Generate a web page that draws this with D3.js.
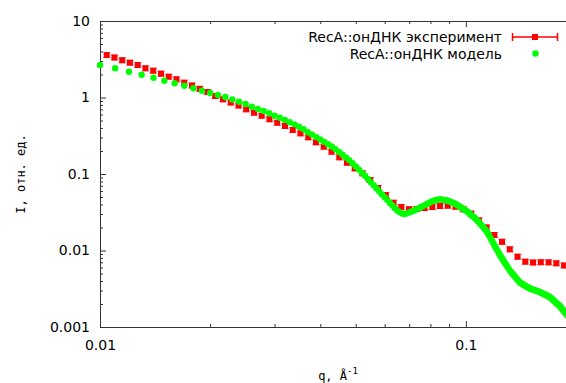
<!DOCTYPE html>
<html>
<head>
<meta charset="utf-8">
<script src="https://cdn.jsdelivr.net/npm/d3@7"></script>
<style>
  body { margin: 0; background: #fff; }
  svg { display: block; }
</style>
</head>
<body>
<div id="chart"></div>
<script>
// experiment (red squares)
const expQ = [0.01043, 0.01095, 0.01150, 0.01207, 0.01268, 0.01331, 0.01398, 0.01468, 0.01541, 0.01618,
  0.01699, 0.01784, 0.01873, 0.01967, 0.02065, 0.02168, 0.02277, 0.02391, 0.02510, 0.02636,
  0.02767, 0.02906, 0.03051, 0.03204, 0.03364, 0.03532, 0.03709, 0.03894, 0.04089, 0.04293,
  0.04508, 0.04733, 0.04970, 0.05218, 0.05479, 0.05753, 0.06041, 0.06343, 0.06660, 0.06993,
  0.07343, 0.07710, 0.08095, 0.08500, 0.08925, 0.09371, 0.09840, 0.10332, 0.10849, 0.11391,
  0.11961, 0.12559, 0.13187, 0.13846, 0.14538, 0.15265, 0.16028, 0.16830, 0.17671, 0.18555];
const expI = [3.594, 3.333, 3.073, 2.850, 2.659, 2.408, 2.240, 2.047, 1.870, 1.729,
  1.561, 1.435, 1.299, 1.180, 1.046, 0.947, 0.860, 0.786, 0.701, 0.633,
  0.578, 0.520, 0.468, 0.424, 0.376, 0.340, 0.302, 0.260, 0.2275, 0.1956,
  0.1653, 0.1405, 0.1187, 0.1021, 0.0835, 0.0656, 0.0531, 0.0421, 0.0370, 0.0346,
  0.0349, 0.0359, 0.0370, 0.0382, 0.0385, 0.0374, 0.0346, 0.0303, 0.0248, 0.0200,
  0.01594, 0.01299, 0.01037, 0.00830, 0.00714, 0.00697, 0.00703, 0.00701, 0.00680, 0.00637];

// model (green dots)
const modQ = [0.010, 0.011, 0.012, 0.013, 0.014, 0.015, 0.016, 0.017, 0.018, 0.019,
  0.020, 0.021, 0.022, 0.023, 0.024, 0.025, 0.026, 0.027, 0.028, 0.029,
  0.030, 0.031, 0.032, 0.033, 0.034, 0.035, 0.036, 0.037, 0.038, 0.039,
  0.040, 0.041, 0.042, 0.043, 0.044, 0.045, 0.046, 0.047, 0.048, 0.049,
  0.050, 0.051, 0.052, 0.053, 0.054, 0.055, 0.056, 0.057, 0.058, 0.059,
  0.060, 0.061, 0.062, 0.063, 0.064, 0.065, 0.066, 0.067, 0.068, 0.069,
  0.070, 0.071, 0.072, 0.073, 0.074, 0.075, 0.076, 0.077, 0.078, 0.079,
  0.080, 0.081, 0.082, 0.083, 0.084, 0.085, 0.086, 0.087, 0.088, 0.089,
  0.090, 0.091, 0.092, 0.093, 0.094, 0.095, 0.096, 0.097, 0.098, 0.099,
  0.100, 0.101, 0.102, 0.103, 0.104, 0.105, 0.106, 0.107, 0.108, 0.109,
  0.110, 0.111, 0.112, 0.113, 0.114, 0.115, 0.116, 0.117, 0.118, 0.119,
  0.120, 0.121, 0.122, 0.123, 0.124, 0.125, 0.126, 0.127, 0.128, 0.129,
  0.130, 0.131, 0.132, 0.133, 0.134, 0.135, 0.136, 0.137, 0.138, 0.139,
  0.140, 0.141, 0.142, 0.143, 0.144, 0.145, 0.146, 0.147, 0.148, 0.149,
  0.150, 0.151, 0.152, 0.153, 0.154, 0.155, 0.156, 0.157, 0.158, 0.159,
  0.160, 0.161, 0.162, 0.163, 0.164, 0.165, 0.166, 0.167, 0.168, 0.169,
  0.170, 0.171, 0.172, 0.173, 0.174, 0.175, 0.176, 0.177, 0.178, 0.179,
  0.180, 0.181, 0.182, 0.183, 0.184, 0.185, 0.186, 0.187, 0.188, 0.189, 0.190];
const modI = [2.659, 2.408, 2.174, 1.980, 1.815, 1.658, 1.533, 1.422, 1.319, 1.223,
  1.145, 1.078, 1.015, 0.942, 0.879, 0.822, 0.758, 0.707, 0.666, 0.622,
  0.578, 0.544, 0.508, 0.474, 0.446, 0.415, 0.384, 0.351, 0.3273, 0.3038,
  0.2825, 0.2628, 0.2452, 0.2288, 0.2116, 0.1942, 0.1782, 0.1643, 0.1519, 0.1380,
  0.1253, 0.1142, 0.1040, 0.0950, 0.0863, 0.0783, 0.0714, 0.0648, 0.0592, 0.0541,
  0.0496, 0.0456, 0.0419, 0.0388, 0.0356, 0.0332, 0.0317, 0.0305, 0.0300, 0.0306,
  0.0315, 0.0323, 0.0331, 0.0342, 0.0353, 0.0365, 0.0377, 0.0389, 0.0402, 0.0415,
  0.0428, 0.0442, 0.0450, 0.0457, 0.0462, 0.0467, 0.0463, 0.0458, 0.0454, 0.0450,
  0.0442, 0.0432, 0.0421, 0.0411, 0.0402, 0.0391, 0.0378, 0.0366, 0.0354, 0.0343,
  0.0333, 0.0321, 0.0309, 0.0296, 0.0285, 0.0274, 0.0264, 0.0253, 0.0242, 0.0229,
  0.0218, 0.0207, 0.0197, 0.0188, 0.0179, 0.0166, 0.0154, 0.0143, 0.0133, 0.0123,
  0.0114, 0.0107, 0.00994, 0.00928, 0.00866, 0.00815, 0.00770, 0.00725, 0.00684, 0.00645,
  0.00609, 0.00576, 0.00546, 0.00522, 0.00500, 0.00480, 0.00459, 0.00441, 0.00423, 0.00405,
  0.00389, 0.00377, 0.00370, 0.00363, 0.00355, 0.00348, 0.00341, 0.00335, 0.00328, 0.00323,
  0.00317, 0.00314, 0.00310, 0.00306, 0.00304, 0.00300, 0.00297, 0.00294, 0.00291, 0.00288,
  0.00283, 0.00279, 0.00275, 0.00271, 0.00268, 0.00264, 0.00260, 0.00256, 0.00252, 0.00249,
  0.00245, 0.00238, 0.00232, 0.00227, 0.00221, 0.00215, 0.00210, 0.00205, 0.00200, 0.00196,
  0.00191, 0.00186, 0.00180, 0.00173, 0.00168, 0.00163, 0.00158, 0.00152, 0.00148, 0.00143, 0.00139];

const xMajor = [0.01, 0.1];
const xMinor = [0.02, 0.03, 0.04, 0.05, 0.06, 0.07, 0.08, 0.09, 0.2];
const yMajor = [0.001, 0.01, 0.1, 1, 10];
const yMinor = [];
[0.001, 0.01, 0.1, 1].forEach(d => { for (let k = 2; k <= 9; k++) yMinor.push(+(d * k).toPrecision(3)); });

const expLabel = "RecA::онДНК эксперимент";
const modLabel = "RecA::онДНК модель";

const width = 566, height = 383;
const plotLeft = 100, plotRight = 576, plotTop = 21, plotBottom = 327;
const labelFont = "DejaVu Sans";

const svg = d3.select("#chart").append("svg")
  .attr("width", width)
  .attr("height", height);

const x = d3.scaleLog().domain([0.01, 0.2]).range([plotLeft, plotRight]);
const y = d3.scaleLog().domain([0.001, 10]).range([plotBottom, plotTop]);

function styleAxis(g) {
  g.select(".domain").remove();
  g.selectAll("line").attr("stroke", "#333");
  g.selectAll("text").attr("fill", "#000");
  g.attr("font-family", labelFont).attr("font-size", 14);
}

// bottom axis
svg.append("g").attr("transform", `translate(0,${plotBottom})`)
  .call(d3.axisBottom(x).tickValues(xMajor).tickSize(-6).tickPadding(13).tickFormat(d => d))
  .call(styleAxis);
svg.append("g").attr("transform", `translate(0,${plotBottom})`)
  .call(d3.axisBottom(x).tickValues(xMinor).tickSize(-3).tickFormat(""))
  .call(styleAxis);
// top axis (mirror)
svg.append("g").attr("transform", `translate(0,${plotTop})`)
  .call(d3.axisTop(x).tickValues(xMajor).tickSize(-6).tickFormat(""))
  .call(styleAxis);
svg.append("g").attr("transform", `translate(0,${plotTop})`)
  .call(d3.axisTop(x).tickValues(xMinor).tickSize(-3).tickFormat(""))
  .call(styleAxis);
// left axis
svg.append("g").attr("transform", `translate(${plotLeft},0)`)
  .call(d3.axisLeft(y).tickValues(yMajor).tickSize(-6).tickPadding(10).tickFormat(d => d))
  .call(styleAxis);
svg.append("g").attr("transform", `translate(${plotLeft},0)`)
  .call(d3.axisLeft(y).tickValues(yMinor).tickSize(-3).tickFormat(""))
  .call(styleAxis);

// border
svg.append("rect")
  .attr("x", plotLeft + 0.5).attr("y", plotTop + 0.5)
  .attr("width", plotRight - plotLeft).attr("height", plotBottom - plotTop)
  .attr("fill", "none").attr("stroke", "#333").attr("stroke-width", 1);

// experiment points with small error-bar caps
const expData = expQ.map((q, i) => ({ q, I: expI[i] }));
const expG = svg.append("g").selectAll("g").data(expData).join("g")
  .attr("transform", d => `translate(${x(d.q)},${y(d.I)})`);
expG.append("path")
  .attr("d", "M-4,-2.5H4M-4,2.5H4")
  .attr("stroke", "#ff0000").attr("stroke-opacity", 0.45).attr("stroke-width", 1);
expG.append("rect")
  .attr("x", -3).attr("y", -3).attr("width", 6).attr("height", 6)
  .attr("fill", "#ff0000");

// model points
const modData = modQ.map((q, i) => ({ q, I: modI[i] }));
svg.append("g").selectAll("circle").data(modData).join("circle")
  .attr("cx", d => x(d.q))
  .attr("cy", d => y(d.I))
  .attr("r", 3.2)
  .attr("fill", "#00ff00");

// legend
const legend = svg.append("g").attr("font-family", labelFont).attr("font-size", 14);
legend.append("text").attr("x", 502).attr("y", 42).attr("text-anchor", "end").text(expLabel);
legend.append("path")
  .attr("d", "M512,37H558M512.5,33V41M557.5,33V41")
  .attr("stroke", "#ff0000").attr("stroke-width", 1.5).attr("fill", "none");
legend.append("rect").attr("x", 532).attr("y", 34).attr("width", 6).attr("height", 6).attr("fill", "#ff0000");
legend.append("text").attr("x", 502).attr("y", 58.5).attr("text-anchor", "end").text(modLabel);
legend.append("circle").attr("cx", 535.5).attr("cy", 53.5).attr("r", 3.2).attr("fill", "#00ff00");

// axis titles
const xt = svg.append("text")
  .attr("x", (plotLeft + plotRight) / 2).attr("y", 380)
  .attr("text-anchor", "middle")
  .attr("font-family", "DejaVu Sans Mono").attr("font-size", 12);
xt.append("tspan").text("q, Å");
xt.append("tspan").attr("dy", -6).attr("font-size", 9).text("-1");

svg.append("text")
  .attr("transform", `translate(25,${(plotTop + plotBottom) / 2}) rotate(-90)`)
  .attr("text-anchor", "middle")
  .attr("font-family", "DejaVu Sans Mono").attr("font-size", 12)
  .text("I, отн. ед.");
</script>
</body>
</html>
